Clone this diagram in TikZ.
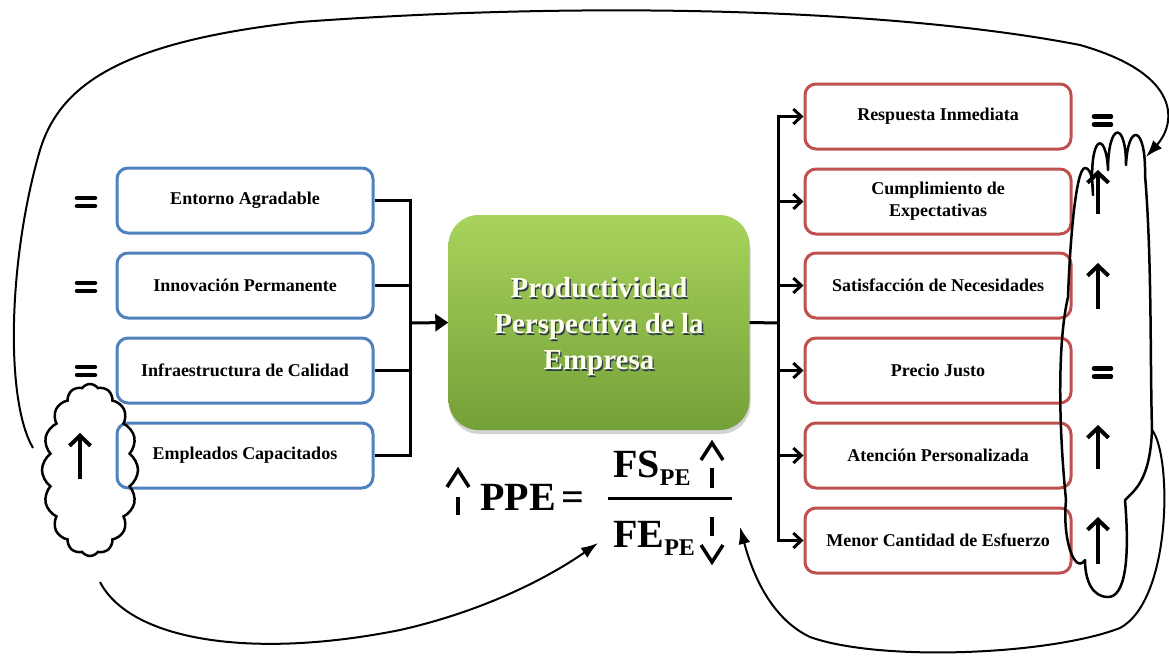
\documentclass[tikz,border=0pt]{standalone}
\usepackage{fontspec}
\setmainfont{Liberation Serif}
\usetikzlibrary{arrows.meta,shapes.symbols,shadows}
\definecolor{bluebd}{HTML}{4F81BD}
\definecolor{redbd}{HTML}{C0504D}
\definecolor{gtop}{HTML}{A8D35C}
\definecolor{gbot}{HTML}{74A038}
\definecolor{shd}{HTML}{2F3B4A}
\definecolor{cream}{HTML}{FFFFF0}
\newcommand\shline[1]{\leavevmode\rlap{\hspace{1.3pt}\raisebox{-1.3pt}{\color{shd}#1}}{\color{cream}#1}}
\begin{document}
\begin{tikzpicture}[x=1pt,y=-1pt,
  lbox/.style={draw=bluebd,line width=3pt,rounded corners=11pt,fill=white,
    minimum width=256pt,minimum height=65pt,inner sep=0pt,align=center,
    font=\fontsize{18}{22}\selectfont\bfseries},
  rbox/.style={lbox,draw=redbd,minimum width=266pt},
  gbox/.style={rounded corners=30pt,top color=gtop,bottom color=gbot,
    minimum width=301pt,minimum height=215pt,align=center,
    font=\fontsize{29}{36}\selectfont\bfseries,
    drop shadow={shadow xshift=1pt,shadow yshift=-4pt,opacity=0.35}},
  conn/.style={line width=3pt,black},
  barb/.style={conn,-{Straight Barb[length=8pt,width=15pt]}},
  curvearr/.style={line width=2pt,-{Latex[length=17pt,width=12pt]}},
  bigup/.style={line width=4pt,-{Straight Barb[length=10pt,width=21pt]}},
  fm/.style={line width=3.5pt},
  eqbar/.style={line width=4.5pt,line cap=round},
  cloudline/.style={line width=2.5pt,line join=round},
  cloudshape/.style={cloud,draw,line width=2.5pt,cloud ignores aspect,inner sep=0pt},
  fbig/.style={font=\fontsize{40}{40}\selectfont\bfseries,inner sep=0pt,anchor=base west}
]
\useasboundingbox (0,0) rectangle (1169,656);

% left boxes
\node[lbox] (L1) at (245,200.5) {Entorno Agradable};
\node[lbox] (L2) at (245,285.5) {Innovación Permanente};
\node[lbox] (L3) at (245,370.5) {Infraestructura de Calidad};
\node[lbox] (L4) at (245,455.5) {Empleados Capacitados};

% right boxes
\node[rbox] (R1) at (938,116.5) {Respuesta Inmediata};
\node[rbox] (R2) at (938,201.5) {Cumplimiento de\\Expectativas};
\node[rbox] (R3) at (938,285.5) {Satisfacción de Necesidades};
\node[rbox] (R4) at (938,370.5) {Precio Justo};
\node[rbox] (R5) at (938,455.5) {Atención Personalizada};
\node[rbox] (R6) at (938,540.5) {Menor Cantidad de Esfuerzo};

% central box
\node[gbox] (G) at (599,322.5) {\rule{0pt}{30pt}\shline{Productividad}\\\shline{Perspectiva de la}\\\shline{Empresa}};

% left connectors
\coordinate (lj) at (410,323);
\draw[conn] (L1.east) -| (lj);
\draw[conn] (L2.east) -| (lj);
\draw[conn] (L3.east) -| (lj);
\draw[conn] (L4.east) -| (lj);
\draw[conn,-{Triangle[length=13pt,width=17pt]}] (lj) -- (G.west);

% right connectors
\coordinate (rj) at (778,323);
\draw[conn] (G.east) -- (rj);
\draw[barb] (rj) |- (R1.west);
\draw[barb] (rj) |- (R2.west);
\draw[barb] (rj) |- (R3.west);
\draw[barb] (rj) |- (R4.west);
\draw[barb] (rj) |- (R5.west);
\draw[barb] (rj) |- (R6.west);

% equal signs left
\foreach \yc in {202,287,371}{
  \draw[eqbar] (77,\yc-4) -- (95,\yc-4);
  \draw[eqbar] (77,\yc+4) -- (95,\yc+4);
}
% equal signs right
\foreach \yc in {120.5,372.5}{
  \draw[eqbar] (1094,\yc-4) -- (1111,\yc-4);
  \draw[eqbar] (1094,\yc+4) -- (1111,\yc+4);
}

% left cloud
\node[cloudshape,cloud puffs=16,cloud puff arc=110,minimum width=96pt,minimum height=172pt] (CL) at (90,470) {};
% right cloud (tall, hand drawn)
\draw[cloudline] (1093,195)
  .. controls (1088,135) and (1106,128) .. (1108,170)
  .. controls (1108,122) and (1126,120) .. (1126,165)
  .. controls (1128,122) and (1146,125) .. (1145,175)
  .. controls (1152,260) and (1150,360) .. (1152,430)
  .. controls (1150,480) and (1135,490) .. (1125,500)
  .. controls (1130,560) and (1125,597) .. (1108,597)
  .. controls (1092,597) and (1085,580) .. (1085,560)
  .. controls (1075,575) and (1062,540) .. (1066,500)
  .. controls (1058,420) and (1058,340) .. (1068,297)
  .. controls (1070,240) and (1076,168) .. (1085,168)
  .. controls (1092,168) and (1093,185) .. (1093,195) -- cycle;
\coordinate (CRtop) at (1146,157);
\coordinate (CRside) at (1152,430);

% big up arrows
\draw[bigup] (80,479) -- (80,433);
\draw[bigup] (1098,214) -- (1098,170);
\draw[bigup] (1098,309) -- (1098,263);
\draw[bigup] (1098,469) -- (1098,425);
\draw[bigup] (1098,564) -- (1098,517);

% formula
\node[fbig] (ppe) at (480,510) {PPE};
\node[fbig] (eqs) at (561,510) {=};
\node[fbig] (fs) at (613,477) {FS\raisebox{-8pt}{\fontsize{24}{24}\selectfont PE}};
\node[fbig] (fe) at (613,547) {FE\raisebox{-8pt}{\fontsize{24}{24}\selectfont PE}};
\draw[line width=3pt] (608,498) -- (732,498);
% dashed small arrows
\draw[fm] (447,487) -- (458,470) -- (469,487);
\draw[fm] (458,497) -- (458,515);
\draw[fm] (701,460) -- (712,443) -- (723,460);
\draw[fm] (712,468) -- (712,488);
\draw[fm] (712,517) -- (712,536);
\draw[fm] (701,545) -- (712,562) -- (723,545);

% feedback curves
\coordinate (t0) at (33,448);
\draw[curvearr] (t0) .. controls (5,400) and (8,260) .. (40,150)
  .. controls (60,85) and (120,42) .. (300,22)
  .. controls (600,0) and (900,10) .. (1080,45)
  .. controls (1185,75) and (1175,125) .. (CRtop);

\coordinate (b0) at (100,582);
\coordinate (b1) at (598,543);
\draw[curvearr] (b0) .. controls (130,640) and (250,660) .. (400,630)
  .. controls (480,612) and (545,580) .. (b1);

\coordinate (c1) at (740,527);
\draw[curvearr] (CRside) .. controls (1172,455) and (1172,600) .. (1120,628)
  .. controls (1050,655) and (880,662) .. (810,637)
  .. controls (770,618) and (752,572) .. (c1);
\end{tikzpicture}
\end{document}
